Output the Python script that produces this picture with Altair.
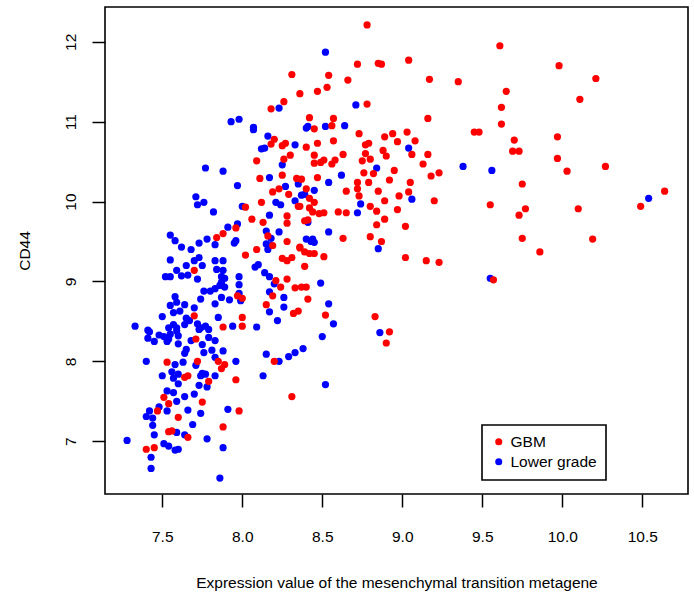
import altair as alt
import pandas as pd

# GBM samples: mesenchymal metagene expression vs CD44
gbm_x = [8.31, 8.36, 8.26, 8.18, 8.20, 8.18, 8.25, 8.27, 8.30, 8.09, 8.26, 8.11, 8.25, 8.34,
         8.78, 8.72, 8.85, 8.87, 9.04, 8.54, 8.66, 9.17, 9.35, 8.53, 8.47, 8.78, 8.42, 8.57, 8.45, 8.56,
         9.16, 8.73, 8.89, 8.94, 9.03, 9.45, 9.48, 8.40, 8.47, 8.57, 8.77, 8.79, 8.97, 9.08, 8.45, 8.63,
         8.77, 8.88, 8.90, 9.06, 9.16, 8.45, 8.49, 8.51, 8.56, 8.58, 8.75, 8.80, 9.13, 8.76, 8.82, 8.95,
         9.23, 9.18, 8.47, 8.37,
         9.61, 9.98, 10.21, 9.65, 10.11, 9.62, 9.62, 9.70, 9.97, 9.69, 9.73, 9.97, 10.27, 10.03,
         9.75, 10.64, 10.49, 9.55, 9.77, 9.73, 10.10, 9.75, 10.19, 9.86, 9.57,
         8.72, 8.79, 8.92, 9.05, 8.40, 8.42, 8.45, 8.65, 8.73, 8.72, 8.85, 8.98, 9.04, 9.20, 8.80, 8.84,
         8.89, 8.97, 8.36, 8.42, 8.44, 8.48, 8.51, 8.60, 8.65, 8.41, 8.84, 8.89, 9.02, 8.63, 8.80, 8.87,
         8.36, 8.39, 8.42, 8.45, 8.51, 9.02, 9.15, 9.23, 8.39, 8.40, 8.41, 8.52, 8.83, 8.92, 8.90,
         8.19, 8.23, 8.29, 8.12, 8.02, 8.35, 8.28, 8.06, 8.13, 8.28, 8.39, 7.96, 7.88, 7.84, 8.16, 8.19,
         8.28, 8.36, 8.09, 8.02, 8.25, 8.31, 8.28, 7.70, 8.21, 8.28, 8.37, 8.33, 8.24, 7.97, 8.00, 8.19,
         8.15, 8.35, 8.32, 7.70, 8.00, 7.88, 8.00,
         7.71, 8.20, 7.53, 7.72, 7.85, 7.89, 7.87, 7.64, 7.66, 7.79, 7.96, 7.51, 7.75, 7.54, 7.47, 7.98,
         7.60, 8.31, 7.88, 7.54, 7.56, 7.66, 7.40, 7.45]
gbm_y = [11.59, 11.35, 11.25, 11.16, 10.78, 10.72, 10.70, 10.73, 10.58, 10.51, 10.53, 10.29, 10.33, 10.29,
         12.21, 11.72, 11.73, 11.72, 11.77, 11.58, 11.52, 11.53, 11.50, 11.43, 11.38, 11.22, 11.05, 11.04,
         10.91, 10.95, 11.04, 10.85, 10.81, 10.85, 10.87, 10.87, 10.87, 10.68, 10.73, 10.76, 10.71, 10.73,
         10.75, 10.76, 10.58, 10.59, 10.60, 10.64, 10.57, 10.59, 10.59, 10.48, 10.49, 10.52, 10.47, 10.52,
         10.51, 10.53, 10.47, 10.36, 10.35, 10.39, 10.36, 10.32, 10.30, 10.28,
         11.95, 11.70, 11.54, 11.38, 11.28, 11.18, 10.97, 10.77, 10.81, 10.63, 10.63, 10.54, 10.44, 10.38,
         10.22, 10.13, 9.94, 9.96, 9.91, 9.83, 9.91, 9.54, 9.53, 9.37, 9.02,
         10.24, 10.24, 10.27, 10.24, 10.16, 10.04, 9.99, 10.13, 10.07, 10.16, 10.13, 10.07, 10.12, 10.01,
         9.94, 9.88, 10.01, 9.90, 9.94, 9.92, 9.87, 9.85, 9.86, 9.87, 9.86, 9.77, 9.71, 9.78, 9.69, 9.54,
         9.56, 9.50, 9.43, 9.37, 9.35, 9.35, 9.31, 9.30, 9.26, 9.24, 9.19, 8.93, 8.78, 8.58, 8.56, 8.37, 8.23,
         10.12, 10.16, 10.09, 9.99, 9.93, 9.94, 9.82, 9.78, 9.74, 9.73, 9.76, 9.67, 9.60, 9.55, 9.57, 9.45,
         9.50, 9.42, 9.40, 9.33, 9.29, 9.30, 9.26, 9.14, 9.01, 9.03, 8.93, 8.92, 8.93, 8.82, 8.79, 8.82,
         8.71, 8.63, 8.60, 8.57, 8.55, 8.43, 8.44,
         8.28, 8.00, 7.99, 8.00, 8.00, 7.96, 7.91, 7.80, 7.82, 7.75, 7.77, 7.55, 7.49, 7.47, 7.38, 7.38,
         7.30, 7.56, 7.18, 7.12, 7.13, 7.05, 6.90, 6.92]

# Lower grade glioma samples
lower_x = [8.23, 7.93, 7.98, 8.07, 8.07, 8.16, 8.33, 8.14, 8.12, 8.25, 7.77, 7.88, 8.17,
           8.52, 8.71, 8.40, 8.41, 8.52, 8.64, 9.04, 8.84, 9.38, 9.56, 8.62, 10.54, 9.55,
           8.54, 8.39, 8.45, 9.06, 8.74, 8.72, 8.41, 8.54, 8.40, 8.44, 8.45, 8.43, 8.85, 8.49, 8.54, 8.57,
           8.50, 8.38, 8.86, 8.52,
           8.35, 7.97, 8.27, 8.37, 8.33, 7.71, 7.76, 7.72, 8.21, 8.24, 8.00, 7.82, 8.17, 7.97, 7.91, 8.15,
           8.23, 7.55, 7.58, 7.62,
           7.78, 7.73, 7.83, 7.96, 7.95, 8.18, 8.15, 8.18, 8.16, 7.68, 7.73, 7.70, 7.55, 7.83, 7.88, 7.65,
           7.75, 8.10, 8.08, 7.59,
           7.84, 7.88, 8.14, 8.17, 7.52, 7.55, 7.62, 7.66, 7.72, 7.87, 7.89, 7.98, 8.20, 7.87, 7.86, 7.98,
           7.83, 7.89, 7.76, 7.80,
           7.98, 8.17, 7.58, 7.87, 7.92, 7.74, 8.26, 7.99, 7.55, 7.59, 7.64, 7.83, 8.26, 7.70, 7.57, 7.61,
           8.17, 7.50, 7.65, 7.85,
           8.22, 7.57, 7.59, 7.33, 7.41, 7.54, 7.72, 7.74, 7.77, 7.79, 7.73, 7.94, 8.09,
           7.42, 7.48, 7.51, 7.54, 7.55, 7.59, 7.60, 7.41, 7.45, 7.53, 7.60, 7.64, 7.67, 7.79, 7.83, 7.68,
           7.75, 7.65, 7.64, 7.76,
           7.81, 7.88, 8.15, 8.29, 8.33, 8.23, 7.40, 7.58, 7.63, 7.71, 7.83, 7.96, 7.50, 7.56, 7.57, 7.60,
           7.74, 7.75, 7.77, 7.83,
           7.60, 7.73, 7.78, 8.13, 7.53, 7.57, 7.70, 7.64, 7.59, 7.48, 7.42, 7.40, 7.44, 7.53, 7.66, 7.74,
           7.91, 7.44, 7.69, 7.59,
           7.45, 7.64, 7.78, 7.28, 7.51, 7.54, 7.58, 7.60, 7.88, 7.43, 7.43, 7.86]
lower_y = [11.17, 11.00, 11.03, 10.93, 10.90, 10.82, 10.71, 10.67, 10.66, 10.46, 10.42, 10.38, 10.30,
           11.87, 11.21, 10.92, 10.94, 10.94, 10.95, 10.67, 10.42, 10.44, 10.39, 10.33, 10.04, 9.04,
           10.24, 10.09, 10.14, 10.03, 9.97, 9.86, 9.74, 9.62, 9.53, 9.53, 9.49, 9.50, 9.41, 8.98, 8.72, 8.47,
           8.31, 8.16, 8.36, 7.71,
           10.22, 10.20, 10.19, 10.08, 10.01, 10.06, 9.99, 9.96, 9.99, 9.96, 9.94, 9.87, 9.83, 9.72, 9.68, 9.63,
           9.62, 9.58, 9.51, 9.43,
           9.53, 9.48, 9.46, 9.51, 9.48, 9.54, 9.47, 9.45, 9.40, 9.40, 9.30, 9.26, 9.27, 9.26, 9.26, 9.20,
           9.20, 9.21, 9.18, 9.14,
           9.15, 9.14, 9.11, 9.06, 9.06, 9.06, 9.07, 9.08, 9.03, 9.06, 9.04, 9.06, 8.97, 8.99, 8.95, 8.96,
           8.91, 8.93, 8.88, 8.88,
           8.85, 8.87, 8.81, 8.80, 8.77, 8.78, 8.80, 8.76, 8.70, 8.74, 8.71, 8.72, 8.68, 8.67, 8.61, 8.63,
           8.62, 8.56, 8.54, 8.55,
           8.51, 8.46, 8.42, 8.44, 8.39, 8.42, 8.47, 8.42, 8.44, 8.40, 8.40, 8.44, 8.43,
           8.37, 8.33, 8.31, 8.28, 8.34, 8.38, 8.32, 8.29, 8.25, 8.25, 8.22, 8.46, 8.51, 8.30, 8.26, 8.26,
           8.21, 8.15, 8.10, 8.11,
           8.14, 8.13, 8.09, 8.06, 8.11, 8.00, 8.00, 7.96, 7.99, 7.95, 8.05, 8.00, 7.82, 7.87, 7.79, 7.84,
           7.82, 7.85, 7.84, 7.82,
           7.72, 7.70, 7.68, 7.82, 7.63, 7.61, 7.59, 7.56, 7.50, 7.43, 7.38, 7.31, 7.29, 7.38, 7.39, 7.35,
           7.40, 7.20, 7.21, 7.11,
           7.08, 7.08, 7.03, 7.01, 6.97, 6.94, 6.89, 6.90, 6.92, 6.80, 6.66, 6.54]

groups = ["GBM", "Lower grade"]
group_colors = ["#ff0000", "#0000ff"]
x_ticks = [7.5, 8.0, 8.5, 9.0, 9.5, 10.0, 10.5]
y_ticks = [7, 8, 9, 10, 11, 12]

df = pd.concat([
    pd.DataFrame({"metagene": lower_x, "cd44": lower_y, "grade": "Lower grade"}),
    pd.DataFrame({"metagene": gbm_x, "cd44": gbm_y, "grade": "GBM"}),
], ignore_index=True)

FONT = "Liberation Sans"
FS = 15.5

chart = alt.Chart(df).mark_circle(size=52, opacity=1).encode(
    x=alt.X(
        "metagene:Q",
        scale=alt.Scale(domain=[7.142, 10.786], nice=False, zero=False),
        axis=alt.Axis(
            values=x_ticks, format=".1f", title="Expression value of the mesenchymal transition metagene",
            labelPadding=22, titlePadding=31,
        ),
    ),
    y=alt.Y(
        "cd44:Q",
        scale=alt.Scale(domain=[6.34, 12.435], nice=False, zero=False),
        axis=alt.Axis(
            values=y_ticks, format="d", title="CD44",
            labelAngle=270, labelAlign="center", labelBaseline="bottom",
            labelPadding=14, titlePadding=31,
        ),
    ),
    color=alt.Color(
        "grade:N",
        scale=alt.Scale(domain=groups, range=group_colors),
        legend=alt.Legend(
            title=None, orient="none", legendX=377, legendY=418,
            strokeColor="black", fillColor="white", padding=9,
            symbolType="circle", symbolSize=50, symbolStrokeWidth=0, symbolOpacity=1,
            labelFont=FONT, labelFontSize=FS, labelColor="black", labelOffset=4,
            rowPadding=3,
        ),
    ),
).properties(
    width=583,
    height=487,
    autosize=alt.AutoSizeParams(type="none"),
    padding={"left": 105, "top": 7, "right": 6, "bottom": 105},
    background="white",
).configure_view(
    stroke="black", strokeWidth=1.6,
).configure_legend(
    strokeWidth=1.6,
).configure_axis(
    domain=False, grid=False,
    tickColor="black", tickSize=13, tickWidth=1.5,
    labelFont=FONT, labelFontSize=FS, labelColor="black",
    titleFont=FONT, titleFontSize=FS, titleFontWeight="normal", titleColor="black",
)

chart.save("out.html", embed_options={"renderer": "svg", "actions": False})
